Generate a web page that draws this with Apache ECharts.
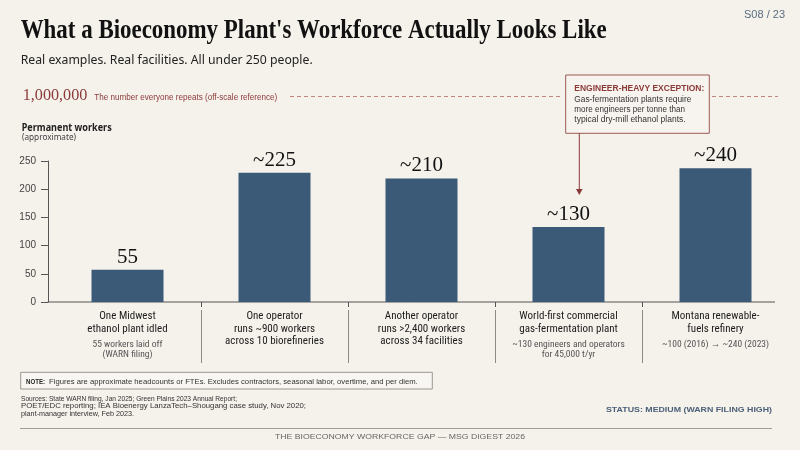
<!DOCTYPE html>
<html>
<head>
<meta charset="utf-8">
<title>Bioeconomy plant workforce</title>
<script src="https://cdn.jsdelivr.net/npm/echarts@6/dist/echarts.min.js"></script>
<style>
    html, body { margin: 0; padding: 0; background: #f5f1eb; }
    #chart { width: 800px; height: 450px; }
</style>
</head>
<body>
<div id="chart"></div>
<script>
// categories (one per facility) and the text under each bar
var categories = ['Midwest plant', 'Operator A', 'Operator B', 'Gas-fermentation plant', 'Montana refinery'];
var titleLines = [
    ['One Midwest', 'ethanol plant idled'],
    ['One operator', 'runs ~900 workers', 'across 10 biorefineries'],
    ['Another operator', 'runs >2,400 workers', 'across 34 facilities'],
    ['World-first commercial', 'gas-fermentation plant'],
    ['Montana renewable-', 'fuels refinery']
];
var subLines = [
    ['55 workers laid off', '(WARN filing)'],
    [],
    [],
    ['~130 engineers and operators', 'for 45,000 t/yr'],
    ['~100 (2016) \u2192 ~240 (2023)']
];
// bar heights as drawn, and the printed figure above each bar
var workers = [57, 229, 219, 133, 237];
var valueLabels = ['55', '~225', '~210', '~130', '~240'];
// y axis ticks
var yTicks = [0, 50, 100, 150, 200, 250];

var chart = echarts.init(document.getElementById('chart'));

var SANS = "'Liberation Sans Narrow', 'Roboto Condensed', 'Liberation Sans', sans-serif";

chart.setOption({
    backgroundColor: '#f5f1eb',
    animation: false,
    grid: { left: 54, right: 11, top: 161, bottom: 148, containLabel: false, outerBoundsMode: 'none' },
    xAxis: {
        type: 'category',
        data: categories,
        axisLine: { show: false },
        axisTick: { show: false },
        axisLabel: {
            interval: 0,
            margin: 8.5,
            formatter: function (value, idx) {
                var parts = titleLines[idx].map(function (l) { return '{t|' + l + '}'; });
                if (subLines[idx].length) {
                    parts.push('{g| }');
                    subLines[idx].forEach(function (l) { parts.push('{s|' + l + '}'); });
                }
                return parts.join('\n');
            },
            rich: {
                t: { fontFamily: SANS, fontSize: 11, lineHeight: 12.4, color: '#1c1c1c' },
                g: { fontSize: 1, lineHeight: 3.5 },
                s: { fontFamily: SANS, fontSize: 9.5, lineHeight: 10.7, color: '#555' }
            }
        }
    },
    yAxis: {
        type: 'value',
        min: yTicks[0],
        max: yTicks[yTicks.length - 1],
        interval: yTicks[1] - yTicks[0],
        offset: 6,
        axisLine: { show: true, lineStyle: { color: '#555', width: 1 } },
        axisTick: { show: true, length: 7, lineStyle: { color: '#555' } },
        axisLabel: { margin: 12, color: '#444', fontSize: 10, fontFamily: 'Liberation Sans' },
        splitLine: { show: false }
    },
    series: [{
        type: 'bar',
        data: workers,
        barWidth: 72,
        itemStyle: { color: '#3b5a78' },
        label: {
            show: true,
            position: 'top',
            distance: 2,
            formatter: function (p) { return valueLabels[p.dataIndex]; },
            fontFamily: 'Liberation Serif',
            fontSize: 21,
            color: '#111'
        }
    }]
});

// text helper: squeeze/stretch a line to the width it has in the layout
var ctx = document.createElement('canvas').getContext('2d');
function txt(str, x, y, font, fill, width, align) {
    ctx.font = font;
    var w = ctx.measureText(str).width;
    return {
        type: 'text', x: x, y: y, silent: true,
        scaleX: width ? width / w : 1,
        style: { text: str, font: font, fill: fill, textAlign: align || 'left', textVerticalAlign: 'middle' }
    };
}
function line(x1, y1, x2, y2, color, dash) {
    return {
        type: 'line', silent: true,
        shape: { x1: x1, y1: y1, x2: x2, y2: y2 },
        style: { stroke: color, lineWidth: 1, lineDash: dash || null }
    };
}

var red = '#8b3a3a';
var g = [];
g.push(txt("What a Bioeconomy Plant's Workforce Actually Looks Like", 20.7, 30.6, "bold 27.5px 'Liberation Serif'", '#111', 586));
g.push(txt('Real examples. Real facilities. All under 250 people.', 20.7, 60.5, "13px 'Noto Sans'", '#222', 292));
g.push(txt('S08 / 23', 785, 15, "10px 'Liberation Sans'", '#5a6e80', 41, 'right'));

// off-scale reference row
g.push(txt('1,000,000', 22.7, 95.4, "16.5px 'Liberation Serif'", red, 64.6));
g.push(txt('The number everyone repeats (off-scale reference)', 94.3, 97.9, "9px 'Liberation Sans'", red, 183));
g.push(line(290, 96.5, 560, 96.5, '#c4847e', [4, 3]));
g.push(line(712, 96.5, 778, 96.5, '#c4847e', [4, 3]));

// callout
g.push({ type: 'rect', silent: true, shape: { x: 565.7, y: 75, width: 143.6, height: 58.3 },
    style: { fill: '#f7f4ef', stroke: '#9a5a55', lineWidth: 1 } });
g.push(txt('ENGINEER-HEAVY EXCEPTION:', 574.3, 88.7, "bold 8.5px 'Liberation Sans'", red, 130));
g.push(txt('Gas-fermentation plants require', 574.3, 99.3, "8.5px 'Liberation Sans'", '#333', 117));
g.push(txt('more engineers per tonne than', 574.3, 109.3, "8.5px 'Liberation Sans'", '#333', 110.7));
g.push(txt('typical dry-mill ethanol plants.', 574.3, 119.3, "8.5px 'Liberation Sans'", '#333', 111.3));
g.push(line(579.3, 133.3, 579.3, 190, red));
g.push({ type: 'polygon', silent: true, shape: { points: [[576, 189], [582.6, 189], [579.3, 195]] },
    style: { fill: red } });

// y axis title
g.push(txt('Permanent workers', 21.7, 128, "bold 10.5px 'Noto Sans'", '#222', 90));
g.push(txt('(approximate)', 22, 137.8, "9px 'Noto Sans'", '#444', 54));

// baseline, category ticks and separators
var y0 = chart.convertToPixel({ yAxisIndex: 0 }, 0);
var xs = workers.map(function (v, i) { return chart.convertToPixel({ xAxisIndex: 0 }, i); });
g.push(line(47.7, y0, 775, y0, '#555'));
for (var i = 0; i < xs.length - 1; i++) {
    var bx = Math.round((xs[i] + xs[i + 1]) / 2) + 0.5;
    g.push(line(bx, y0, bx, y0 + 5, '#555'));
    g.push(line(bx, y0 + 8, bx, y0 + 61, '#8d8a85'));
}

// note, sources, status, footer
g.push({ type: 'rect', silent: true, shape: { x: 20.7, y: 372.3, width: 411.6, height: 16.7 },
    style: { fill: '#f8f6f2', stroke: '#9a9690', lineWidth: 1 } });
g.push(txt('NOTE:', 26, 381.5, "bold 8px 'Liberation Sans'", '#222', 19));
g.push(txt('Figures are approximate headcounts or FTEs. Excludes contractors, seasonal labor, overtime, and per diem.',
    49, 381.5, "8px 'Liberation Sans'", '#333', 368.7));
g.push(txt('Sources: State WARN filing, Jan 2025; Green Plains 2023 Annual Report;', 21, 398.5, "7.5px 'Liberation Sans'", '#333', 216));
g.push(txt('POET/EDC reporting; IEA Bioenergy LanzaTech\u2013Shougang case study, Nov 2020;', 21, 406, "7.5px 'Liberation Sans'", '#333', 285));
g.push(txt('plant-manager interview, Feb 2023.', 21, 413.5, "7.5px 'Liberation Sans'", '#333', 113));
g.push(txt('STATUS: MEDIUM (WARN FILING HIGH)', 772, 410.2, "bold 7.5px 'Liberation Sans'", '#4a6078', 166, 'right'));
g.push(line(20, 428.5, 772, 428.5, '#a39d94'));
g.push(txt('THE BIOECONOMY WORKFORCE GAP \u2014 MSG DIGEST 2026', 400, 437, "7px 'Liberation Sans'", '#666', 250, 'center'));

chart.setOption({ graphic: { elements: g } });
</script>
</body>
</html>
